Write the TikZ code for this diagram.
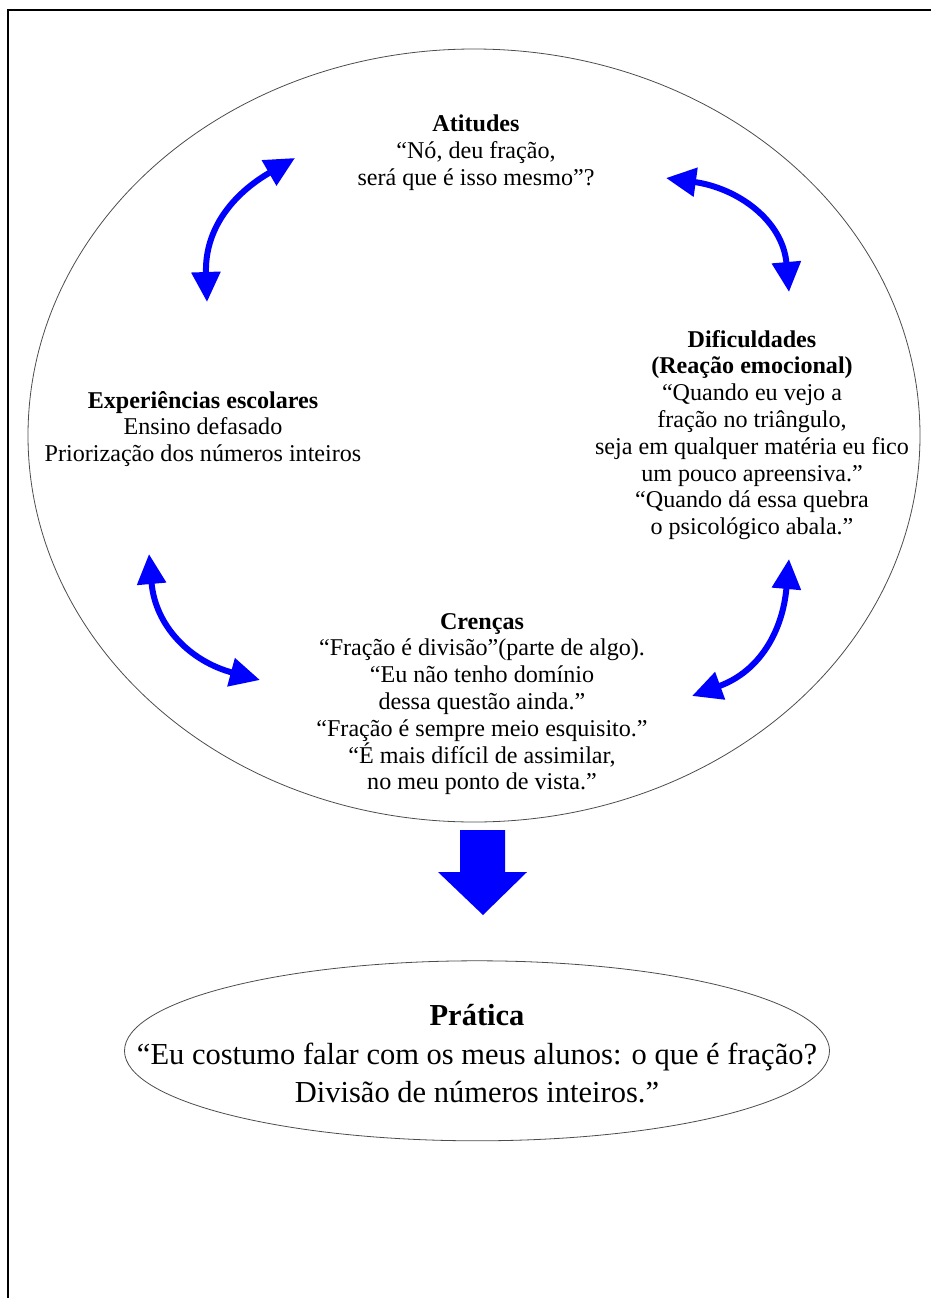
\documentclass[tikz,border=0pt]{standalone}
\usepackage{fontspec}
\setmainfont{Liberation Serif}
\usetikzlibrary{arrows.meta,shapes.geometric,positioning}

\tikzset{
  frase/.style={align=center, inner sep=0pt, font=\fontsize{24.1}{26.8}\selectfont},
  balao/.style={ellipse, draw=black!70, line width=0.8pt, inner sep=0pt},
  roda/.style={{Triangle[length=30pt,width=28pt]}-{Triangle[length=30pt,width=28pt]},
    draw=blue, line width=6pt},
}

\begin{document}
\begin{tikzpicture}[x=1pt,y=1pt]
    \useasboundingbox (0,0) rectangle (931,-1298);
    \draw[line width=2pt] (931,-10) -- (8,-10) -- (8,-1298);

    \node[balao, minimum width=892pt, minimum height=773pt] (ciclo) at (474,-435.5) {};
    \node[balao, minimum width=705pt, minimum height=180pt, below=138pt of ciclo, xshift=3pt] (pratica) {};

    \node[frase] (atitudes) at (476,-153)
        {\textbf{Atitudes}\\“Nó, deu fração,\\será que é isso mesmo”?};
    \node[frase] (dificuldades) at (752,-435)
        {\textbf{Dificuldades}\\\textbf{(Reação emocional)}\\“Quando eu vejo a\\fração no triângulo,\\
         seja em qualquer matéria eu fico\\um pouco apreensiva.”\\“Quando dá essa quebra\\o psicológico abala.”};
    \node[frase] (experiencias) at (203,-429)
        {\textbf{Experiências escolares}\\Ensino defasado\\Priorização dos números inteiros};
    \node[frase] (crencas) at (482,-704)
        {\textbf{Crenças}\\“Fração é divisão”(parte de algo).\\“Eu não tenho domínio\\dessa questão ainda.”\\
         “Fração é sempre meio esquisito.”\\“É mais difícil de assimilar,\\no meu ponto de vista.”};
    \node[frase, font=\fontsize{30.5}{38.5}\selectfont] (praticatexto) at ([yshift=-3pt]pratica)
        {\textbf{Prática}\\“Eu costumo falar com os meus alunos: o que é fração?\\Divisão de números inteiros.”};

    \coordinate (exp1) at (207,-302);
    \coordinate (ati1) at (295,-158);
    \coordinate (ati2) at (666,-178);
    \coordinate (dif1) at (789,-292);
    \coordinate (dif2) at (789,-559);
    \coordinate (cre2) at (692,-696);
    \coordinate (exp2) at (149,-554);
    \coordinate (cre1) at (260,-680);

    \draw[roda] (exp1) to[out=92, in=210, looseness=1.1] (ati1);
    \draw[roda] (ati2) to[out=-8, in=95, looseness=1.1] (dif1);
    \draw[roda] (dif2) to[out=-95, in=20, looseness=1.1] (cre2);
    \draw[roda] (exp2) to[out=-85, in=165, looseness=1.1] (cre1);

    \fill[blue] (460,-830) -- (505,-830) -- (505,-872) -- (527,-872)
        -- (483,-915) -- (438,-872) -- (460,-872) -- cycle;
\end{tikzpicture}
\end{document}
